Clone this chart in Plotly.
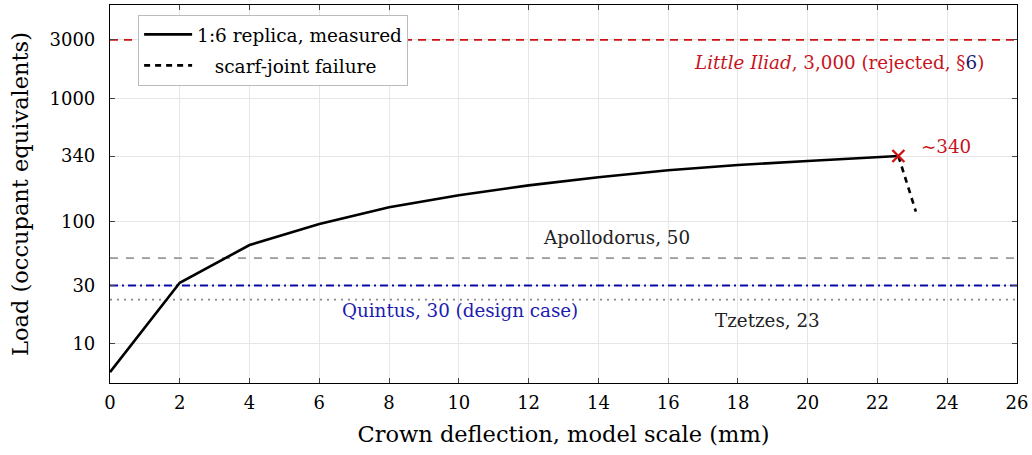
import math
import plotly.graph_objects as go

# data
deflection = [0, 2, 4, 6, 8, 10, 12, 14, 16, 18, 20, 22, 22.6]
load = [5.9, 31.5, 64, 95, 130, 163, 196, 228, 260, 287, 310, 331, 340]
fail_x = [22.6, 23.1]
fail_y = [340, 120]
ref_names = ["Little Iliad", "Apollodorus", "Quintus", "Tzetzes"]
ref_values = [3000, 50, 30, 23]
ytick_vals = [10, 30, 100, 340, 1000, 3000]
xtick_vals = list(range(0, 27, 2))

FONT = "DejaVu Serif"
RED = "#c8141e"
BLUE = "#1c1cb0"

fig = go.Figure()

ref_styles = [
    dict(color="#cc1111", dash="8px,6px", width=1.7),
    dict(color="#999999", dash="8px,8px", width=1.8),
    dict(color="#0a0aa8", dash="8px,4px,2px,4px", width=2.0),
    dict(color="#888888", dash="2px,5px", width=1.6),
]
for name, v, st in zip(ref_names, ref_values, ref_styles):
    fig.add_trace(go.Scatter(x=[0, 26], y=[v, v], mode="lines", line=st,
                             showlegend=False, hoverinfo="skip"))

fig.add_trace(go.Scatter(x=deflection, y=load, mode="lines",
                         line=dict(color="black", width=2.6),
                         name="1:6 replica, measured", legendgroup="a"))
fig.add_trace(go.Scatter(x=fail_x, y=fail_y, mode="lines",
                         line=dict(color="black", width=2.6, dash="6px,5px"),
                         name="\u00a0\u00a0\u00a0scarf-joint failure", legendgroup="b"))
fig.add_trace(go.Scatter(x=[deflection[-1]], y=[load[-1]], mode="markers",
                         marker=dict(symbol="x-thin", size=12, color="#cc1111",
                                     line=dict(color="#cc1111", width=2.4)),
                         showlegend=False))

annos = [
    dict(x=25.1, y=1950, text="<i>Little Iliad</i>, 3,000 (rejected, §<span style='color:#1a1a6e'>6</span>)",
         xanchor="right", font=dict(color=RED, size=18.3)),
    dict(x=23.2, y=410, text="~340", xanchor="left", font=dict(color=RED, size=18.3)),
    dict(x=14.53, y=74, text="Apollodorus, 50", xanchor="center", font=dict(color="#222222", size=18.3)),
    dict(x=10.03, y=18.9, text="Quintus, 30 (design case)", xanchor="center", font=dict(color=BLUE, size=18.3)),
    dict(x=18.85, y=15.4, text="Tzetzes, 23", xanchor="center", font=dict(color="#222222", size=18.3)),
]
for a in annos:
    fig.add_annotation(x=a["x"], y=math.log10(a["y"]), yref="y", xref="x", text=a["text"],
                       showarrow=False, xanchor=a["xanchor"], yanchor="middle",
                       font=dict(family=FONT, **a["font"]))

fig.update_layout(
    width=1032, height=455,
    margin=dict(l=110, r=15, t=5, b=72),
    paper_bgcolor="white", plot_bgcolor="white",
    font=dict(family=FONT, size=18.5, color="black"),
    legend=dict(x=0.031, y=0.974, xanchor="left", yanchor="top",
                bgcolor="white", bordercolor="#bbbbbb", borderwidth=1,
                font=dict(family=FONT, size=18.5), itemwidth=48,
                tracegroupgap=4),
)
fig.update_xaxes(range=[0, 26], tickvals=xtick_vals, ticks="inside", ticklen=5,
                 showgrid=True, gridcolor="#e6e6e6", showline=True, linecolor="black",
                 linewidth=1.2, mirror="ticks", zeroline=False,
                 title=dict(text="Crown deflection, model scale (mm)", font=dict(size=22.5), standoff=14),
                 tickfont=dict(size=18), ticklabelstandoff=3)
fig.update_yaxes(type="log", range=[0.682, 3.762], tickvals=ytick_vals,
                 ticktext=[str(v) for v in ytick_vals], ticks="inside", ticklen=5,
                 showgrid=True, gridcolor="#e6e6e6", showline=True, linecolor="black",
                 linewidth=1.2, mirror="ticks", zeroline=False,
                 title=dict(text="Load (occupant equivalents)", font=dict(size=22.5), standoff=14),
                 tickfont=dict(size=18), ticklabelstandoff=10)

fig.write_html("out.html", post_script="document.body.style.margin='0';",
               config={"displayModeBar": False})
